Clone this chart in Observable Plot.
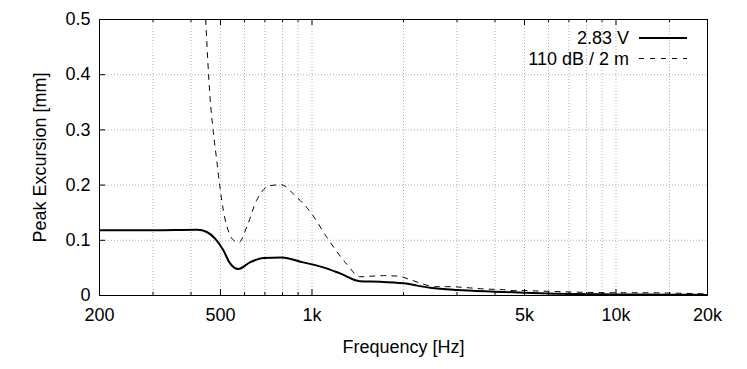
<!DOCTYPE html>
<html><head><meta charset="utf-8">
<script src="https://cdn.jsdelivr.net/npm/d3@7"></script>
<script src="https://cdn.jsdelivr.net/npm/@observablehq/plot@0.6"></script>
<style>body{margin:0;background:#fff}</style>
</head><body><div id="chart"></div>
<script>
// Series 1: 2.83 V
const freq283 = [200, 300, 420, 451, 480, 511, 535, 572, 625, 692, 794, 936, 1089, 1237, 1438, 1673, 2000, 2446, 3000, 4000, 5000, 6500, 10000, 15000, 20000];
const exc283  = [0.118, 0.118, 0.119, 0.115, 0.103, 0.082, 0.060, 0.048, 0.060, 0.068, 0.069, 0.060, 0.051, 0.040, 0.026, 0.025, 0.022, 0.014, 0.010, 0.007, 0.005, 0.003, 0.002, 0.0015, 0.001];
// Series 2: 110 dB / 2 m
const freq110 = [447, 462, 473, 486, 498, 511, 535, 555, 575, 610, 657, 728, 794, 868, 998, 1117, 1301, 1438, 1720, 1920, 2100, 2310, 2540, 2800, 3100, 3440, 3780, 4160, 4580, 5000, 5600, 6100, 7500, 10000, 12000, 16500, 20000];
const exc110  = [0.5, 0.359, 0.299, 0.245, 0.196, 0.154, 0.112, 0.099, 0.096, 0.124, 0.172, 0.199, 0.2005, 0.184, 0.148, 0.106, 0.057, 0.034, 0.036, 0.035, 0.029, 0.021, 0.016, 0.016, 0.015, 0.013, 0.0115, 0.011, 0.009, 0.009, 0.008, 0.0075, 0.006, 0.005, 0.005, 0.004, 0.003];

const seriesNames = ["2.83 V", "110 dB / 2 m"];
const xTitle = "Frequency [Hz]";
const yTitle = "Peak Excursion [mm]";
const xLabelTicks = [200, 500, 1000, 5000, 10000, 20000];
const xLabels = ["200", "500", "1k", "5k", "10k", "20k"];
const xMajorTicks = [500, 1000, 5000, 10000];
const xMinorTicks = [300, 400, 600, 700, 800, 900, 2000, 3000, 4000, 6000, 7000, 8000, 9000, 15000];
const yTicks = [0, 0.1, 0.2, 0.3, 0.4, 0.5];
const yLabels = ["0", "0.1", "0.2", "0.3", "0.4", "0.5"];
const yGrid = [0.1, 0.2, 0.3, 0.4];

const W = 747, H = 369, mL = 99, mR = 40, mT = 19, mB = 74;
const plotH = H - mT - mB;
const FONT = "'Liberation Sans', Arial, sans-serif";
const FS = 18;

const s1 = freq283.map((f, i) => ({f, v: exc283[i]}));
const s2 = freq110.map((f, i) => ({f, v: exc110[i]}));
const gridX = [...xMajorTicks, ...xMinorTicks];

const chart = Plot.plot({
  width: W, height: H,
  marginLeft: mL, marginRight: mR, marginTop: mT, marginBottom: mB,
  style: {fontFamily: FONT, fontSize: FS + "px", background: "#fff", color: "#000"},
  x: {type: "log", domain: [200, 20000], axis: null},
  y: {domain: [0, 0.5], axis: null},
  marks: [
    Plot.ruleX(gridX, {x: d => d, stroke: "#b0b0b0", strokeWidth: 1, strokeDasharray: "1,2"}),
    Plot.ruleY(yGrid, {y: d => d, stroke: "#b0b0b0", strokeWidth: 1, strokeDasharray: "1,2"}),
    Plot.frame({stroke: "#000", strokeWidth: 1}),
    Plot.tickX(xMinorTicks, {x: d => d, insetTop: plotH - 3, stroke: "#000"}),
    Plot.tickX(xMinorTicks, {x: d => d, insetBottom: plotH - 3, stroke: "#000"}),
    Plot.tickX(xMajorTicks, {x: d => d, insetTop: plotH - 6, stroke: "#000"}),
    Plot.tickX(xMajorTicks, {x: d => d, insetBottom: plotH - 6, stroke: "#000"}),
    Plot.tickY(yGrid, {y: d => d, insetRight: (W - mL - mR) - 6, stroke: "#000"}),
    Plot.text(xLabelTicks, {x: d => d, text: (d, i) => xLabels[i], frameAnchor: "bottom", lineAnchor: "middle", dy: 20, fontSize: FS, fill: "#000"}),
    Plot.text(yTicks, {y: d => d, text: (d, i) => yLabels[i], frameAnchor: "left", textAnchor: "end", lineAnchor: "middle", dx: -9, fontSize: FS, fill: "#000"}),
    Plot.line(s2, {x: "f", y: "v", stroke: "#000", strokeWidth: 1, strokeDasharray: "5,6", curve: "monotone-x", clip: true}),
    Plot.line(s1, {x: "f", y: "v", stroke: "#000", strokeWidth: 2, curve: "monotone-x", clip: true}),
    Plot.text([xTitle], {frameAnchor: "bottom", lineAnchor: "middle", dy: 52, fontSize: FS, fill: "#000"}),
    Plot.text([yTitle], {frameAnchor: "left", textAnchor: "middle", lineAnchor: "middle", dx: -59, rotate: -90, fontSize: FS, fill: "#000"})
  ]
});

// legend (inside top-right of the frame)
const svg = d3.select(chart);
const lg = svg.append("g").attr("font-family", FONT).attr("font-size", FS);
const legendRows = [
  {name: seriesNames[0], w: 2, dash: null, y: 38},
  {name: seriesNames[1], w: 1, dash: "5,6", y: 58.5}
];
legendRows.forEach(r => {
  lg.append("text").attr("x", 629).attr("y", r.y).attr("dy", "0.35em").attr("text-anchor", "end").attr("fill", "#000").text(r.name);
  const ln = lg.append("line").attr("x1", 639).attr("x2", 687).attr("y1", r.y).attr("y2", r.y).attr("stroke", "#000").attr("stroke-width", r.w);
  if (r.dash) ln.attr("stroke-dasharray", r.dash);
});

document.getElementById("chart").appendChild(chart);
</script>
</body></html>
